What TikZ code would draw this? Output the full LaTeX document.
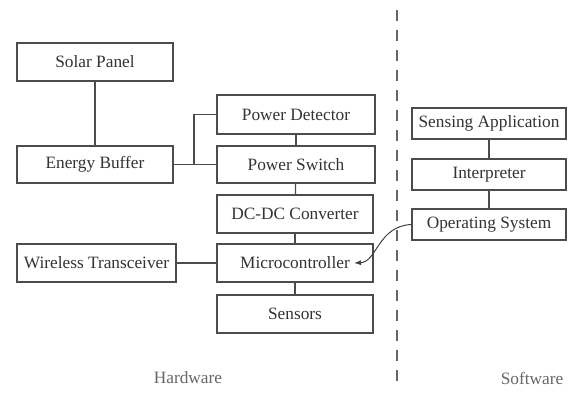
\documentclass[tikz,border=0pt]{standalone}
\usepackage{fontspec}
\setmainfont{Liberation Serif}
\usetikzlibrary{arrows.meta}
\begin{document}
\begin{tikzpicture}[x=1pt,y=-1pt,
  box/.style={draw=black!70, line width=1.2pt, fill=white, text=black!80, font=\fontsize{17.3}{19}\selectfont, inner sep=0pt},
  link/.style={draw=black!70, line width=1.2pt},
  lbl/.style={text=black!60, font=\fontsize{17.3}{19}\selectfont}]
\useasboundingbox (0,0) rectangle (573,394);
\node[box, minimum width=156pt, minimum height=38pt] (solar) at (95,62) {Solar Panel};
\node[box, minimum width=156pt, minimum height=37pt] (buffer) at (95,164.5) {Energy Buffer};
\node[box, minimum width=158pt, minimum height=39pt] (detector) at (296,114.5) {Power Detector};
\node[box, minimum width=158pt, minimum height=37pt] (switch) at (296,164.5) {Power Switch};
\node[box, minimum width=156pt, minimum height=38pt] (dcdc) at (295,214) {DC-DC Converter};
\node[box, minimum width=156pt, minimum height=38pt] (mcu) at (295,263) {Microcontroller};
\node[box, minimum width=156pt, minimum height=38pt] (sensors) at (295,314) {Sensors};
\node[box, minimum width=159pt, minimum height=38pt] (wireless) at (96.5,263) {Wireless Transceiver};
\node[box, minimum width=154pt, minimum height=31pt] (app) at (489,123.5) {Sensing Application};
\node[box, minimum width=154pt, minimum height=31pt] (interp) at (489,174.5) {Interpreter};
\node[box, minimum width=154pt, minimum height=31pt] (os) at (489,224.5) {Operating System};
\coordinate (j) at (194,164.5);
\coordinate (dtop) at (397,10);
\coordinate (dbot) at (397,386);
\coordinate (tip) at (354,263);
\draw[link] (solar) -- (buffer);
\draw[link] (buffer) -- (switch);
\draw[link] (j) |- (detector.west);
\draw[link] (detector) -- (switch);
\draw[link] (switch) -- (dcdc);
\draw[link] (dcdc) -- (mcu);
\draw[link] (mcu) -- (sensors);
\draw[link] (wireless) -- (mcu);
\draw[link] (app) -- (interp);
\draw[link] (interp) -- (os);
\draw[black!60, line width=1.2pt, dash pattern=on 11pt off 9pt] (dtop) -- (dbot);
\draw[black!75, line width=1pt, -{Latex[length=7pt,width=5pt]}] (os.west) .. controls (378,226) and (377,262) .. (tip);
\node[lbl] (hw) at (188,378) {Hardware};
\node[lbl] (sw) at (532,378) {Software};
\end{tikzpicture}
\end{document}
